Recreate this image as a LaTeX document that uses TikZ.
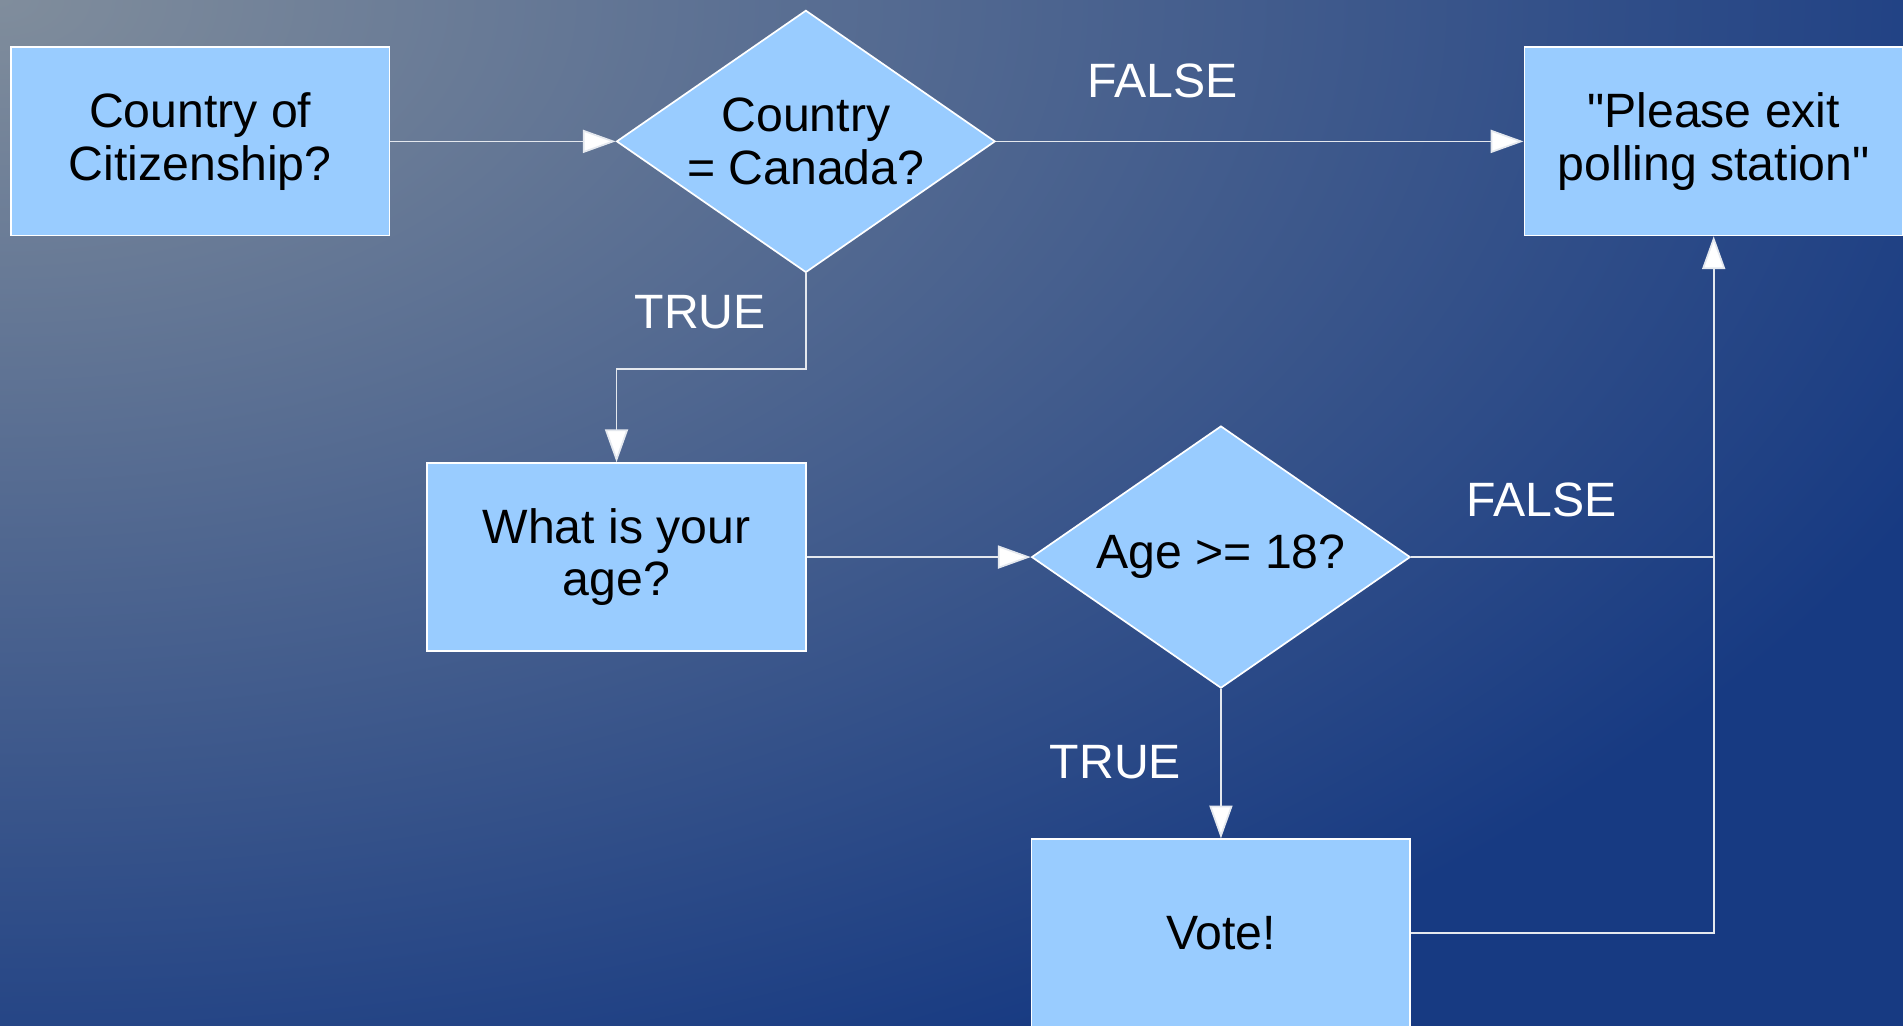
\documentclass[tikz,border=0pt]{standalone}
\usepackage{fontspec}
\setmainfont{Liberation Sans}[Ligatures=TeXOff]
\usepackage{xcolor}
\usetikzlibrary{arrows.meta,shapes.geometric}

\definecolor{boxblue}{HTML}{99CCFF}
\definecolor{bgtop}{HTML}{808D9C}
\definecolor{bgdeep}{HTML}{173A82}
\definecolor{wire}{HTML}{E4E8EE}

\begin{document}
\begin{tikzpicture}[font=\fontsize{11.3}{12.4}\selectfont]
\tikzstyle{step box} = [rectangle, draw=white, line width=.4pt, fill=boxblue, minimum width=3.12cm, minimum height=1.55cm, align=center]
\tikzstyle{decision} = [diamond, draw=white, line width=.4pt, fill=boxblue, minimum width=3.12cm, minimum height=2.16cm, inner sep=-.1cm, aspect=1.44, align=center]
\tikzstyle{flow} = [draw=wire, line width=.4pt, -{Triangle[length=2.7mm,width=1.9mm,fill=white]}]
\tikzstyle{plain} = [draw=wire, line width=.4pt]
\tikzstyle{answer} = [text=white]

% background
\useasboundingbox (0,0) rectangle (15.68,8.45);
\begin{scope}
\clip (0,0) rectangle (15.68,8.45);
\fill[bgdeep] (0,0) rectangle (15.68,8.45);
\shade[inner color=bgtop, outer color=bgdeep] (0,8.45) ellipse (17.5cm and 9.8cm);
\end{scope}

\node[step box] (citizen) at (1.65,7.285) {Country of\\Citizenship?};
\node[decision] (canada) at (6.64,7.285) {Country\\= Canada?};
\node[step box] (exit) at (14.12,7.285) {"Please exit\\polling station"};
\node[step box] (askage) at (5.08,3.86) {What is your\\age?};
\node[decision] (adult) at (10.06,3.86) {Age >= 18?};
\node[step box] (vote) at (10.06,.76) {Vote!};

\node[answer] (no1) at (9.58,7.78) {FALSE};
\node[answer] (yes1) at (5.77,5.88) {TRUE};
\node[answer] (no2) at (12.70,4.33) {FALSE};
\node[answer] (yes2) at (9.19,2.17) {TRUE};

\draw[flow] (citizen.east) -- (canada.west);
\draw[flow] (canada.east) -- (exit.west);
\draw[flow] (canada.south) -- ++(0,-.79) -| (askage.north);
\draw[flow] (askage.east) -- (adult.west);
\draw[flow] (adult.south) -- (vote.north);
\draw[plain] (adult.east) -- (adult.east -| exit.south);
\draw[flow] (vote.east) -| (exit.south);
\end{tikzpicture}
\end{document}
